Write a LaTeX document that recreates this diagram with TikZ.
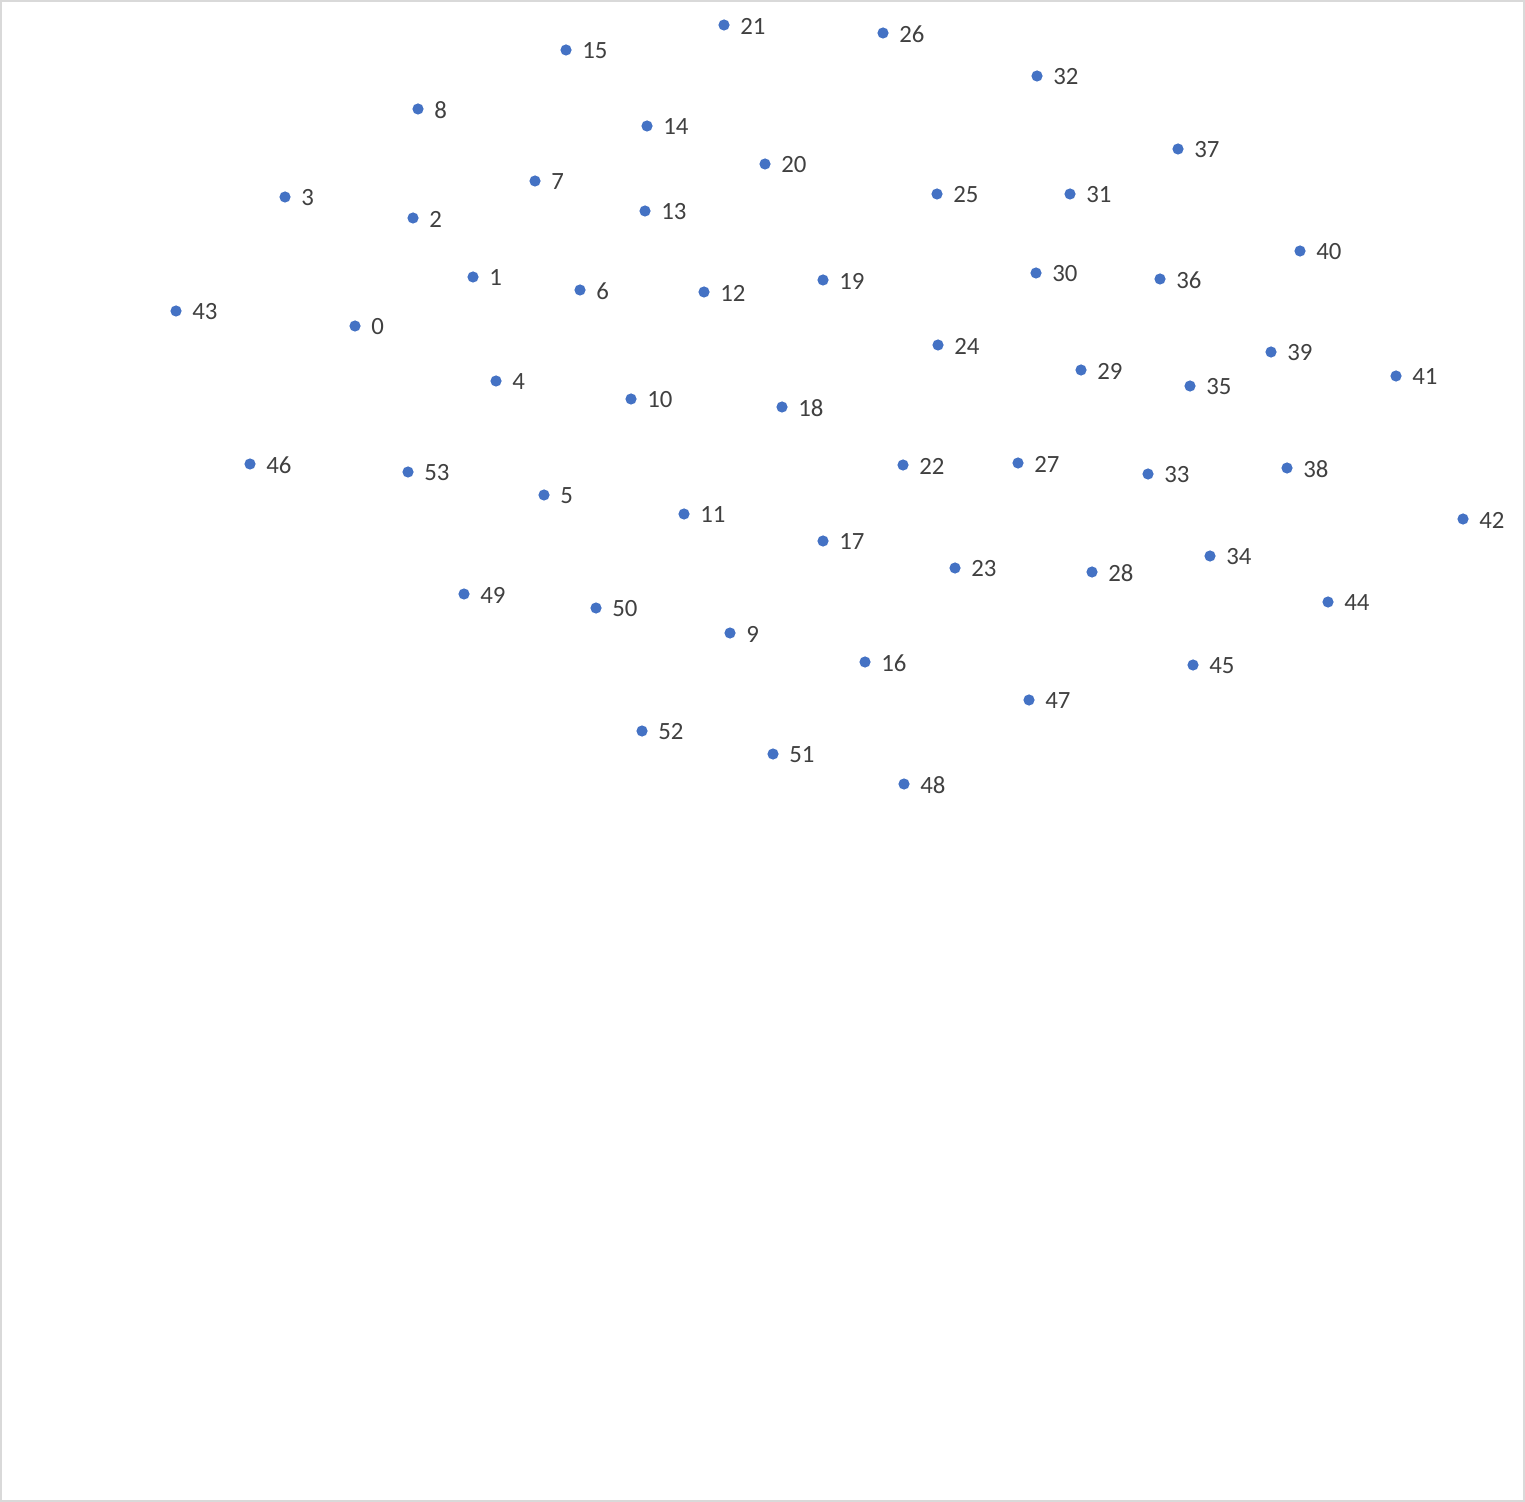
\documentclass[tikz,border=0pt]{standalone}
\usepackage{fontspec}
\setmainfont{Carlito}
\usetikzlibrary{positioning}
\definecolor{dotblue}{HTML}{4472C4}
\definecolor{lblgray}{HTML}{404040}
\definecolor{framegray}{HTML}{D9D9D9}
\tikzset{
  pt/.style={circle, fill=dotblue, inner sep=0pt, minimum size=5.6pt},
  lbl/.style={text=lblgray, inner sep=0pt, font=\fontsize{12.4}{14}\selectfont}
}
\begin{document}
\begin{tikzpicture}[x=0.5pt, y=-0.5pt]

  \useasboundingbox (0,0) rectangle (1525,1502);
  \draw[framegray, line width=1pt] (1,1) rectangle (1524,1501);

  % the points, one per (x/y/number)
  \foreach \px/\py/\n in {355/326/0, 473/277/1, 413/218/2, 285/197/3, 496/381/4,
      544/495/5, 580/290/6, 535/181/7, 418/109/8, 730/633/9, 631/399/10,
      684/514/11, 704/292/12, 645/211/13, 647/126/14, 566/50/15, 865/662/16,
      823/541/17, 782/407/18, 823/280/19, 765/164/20, 724/25/21, 903/465/22,
      955/568/23, 938/345/24, 937/194/25, 883/33/26, 1018/463/27, 1092/572/28,
      1081/370/29, 1036/273/30, 1070/194/31, 1037/76/32, 1148/474/33,
      1210/556/34, 1190/386/35, 1160/279/36, 1178/149/37, 1287/468/38,
      1271/352/39, 1300/251/40, 1396/376/41, 1463/519/42, 176/311/43,
      1328/602/44, 1193/665/45, 250/464/46, 1029/700/47, 904/784/48,
      464/594/49, 596/608/50, 773/754/51, 642/731/52, 408/472/53}
  {
    \node[pt] (p\n) at (\px,\py) {};
    \node[lbl, right=5pt of p\n, yshift=-0.5pt] (l\n) {\n};
  }

\end{tikzpicture}
\end{document}
